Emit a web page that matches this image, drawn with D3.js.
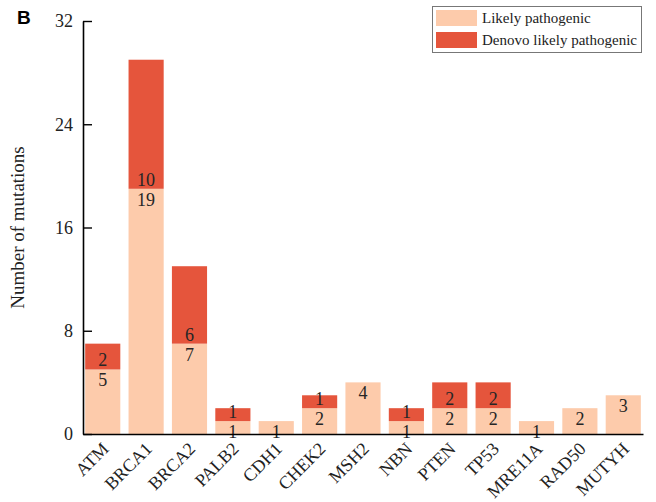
<!DOCTYPE html>
<html>
<head>
<meta charset="utf-8">
<script src="https://cdn.jsdelivr.net/npm/d3@7"></script>
<style>
  body { margin: 0; background: #fff; }
  svg { display: block; }
</style>
</head>
<body>
<svg id="chart" width="656" height="502"></svg>
<script>
// Gene panel and mutation counts per class
const genes = ["ATM", "BRCA1", "BRCA2", "PALB2", "CDH1", "CHEK2", "MSH2", "NBN", "PTEN", "TP53", "MRE11A", "RAD50", "MUTYH"];
const likelyPathogenic = [5, 19, 7, 1, 1, 2, 4, 1, 2, 2, 1, 2, 3];
const denovoLikelyPathogenic = [2, 10, 6, 1, 0, 1, 0, 1, 2, 2, 0, 0, 0];
const yTicks = [0, 8, 16, 24, 32];
const seriesNames = ["Likely pathogenic", "Denovo likely pathogenic"];
const seriesColors = ["#fdcbab", "#e5553c"];

const svg = d3.select("#chart");
const serif = "'Liberation Serif', 'Times New Roman', serif";

const plotLeft = 83, plotRight = 643, plotTop = 21, plotBottom = 434;

const x = d3.scaleBand().domain(genes).range([plotLeft, plotRight])
  .paddingInner(0.19).paddingOuter(0.05);
const y = d3.scaleLinear().domain([0, 32]).range([plotBottom, plotTop]);

const rows = genes.map((g, i) => ({ gene: g, lp: likelyPathogenic[i], dn: denovoLikelyPathogenic[i] }));

// Lower segment: likely pathogenic
svg.append("g").selectAll("rect").data(rows).join("rect")
  .attr("x", d => x(d.gene)).attr("width", x.bandwidth())
  .attr("y", d => y(d.lp)).attr("height", d => y(0) - y(d.lp))
  .attr("fill", seriesColors[0]);

// Upper segment: de novo likely pathogenic
svg.append("g").selectAll("rect").data(rows.filter(d => d.dn > 0)).join("rect")
  .attr("x", d => x(d.gene)).attr("width", x.bandwidth())
  .attr("y", d => y(d.lp + d.dn)).attr("height", d => y(d.lp) - y(d.lp + d.dn))
  .attr("fill", seriesColors[1]);

// Value labels: de novo count sits just above the split, likely count just below it
const labels = svg.append("g").attr("font-family", serif).attr("font-size", 18)
  .attr("fill", "#262626").attr("text-anchor", "middle");
labels.selectAll("text.lp").data(rows).join("text").attr("class", "lp")
  .attr("x", d => x(d.gene) + x.bandwidth() / 2)
  .attr("y", d => y(d.lp) + 17)
  .text(d => d.lp);
labels.selectAll("text.dn").data(rows.filter(d => d.dn > 0)).join("text").attr("class", "dn")
  .attr("x", d => x(d.gene) + x.bandwidth() / 2)
  .attr("y", d => y(d.lp) - 3)
  .text(d => d.dn);

// Y axis with inward ticks
const yAxis = d3.axisLeft(y).tickValues(yTicks).tickSizeInner(-9).tickSizeOuter(0).tickPadding(10);
const gy = svg.append("g").attr("transform", `translate(${plotLeft},0)`).call(yAxis);
gy.select(".domain").attr("stroke", "#000").attr("stroke-width", 1.6);
gy.selectAll(".tick line").attr("stroke", "#000").attr("stroke-width", 1.4);
gy.selectAll(".tick text").attr("font-family", serif).attr("font-size", 18).attr("fill", "#222");

// X axis with rotated gene names
const xAxis = d3.axisBottom(x).tickSize(0).tickSizeOuter(0);
const gx = svg.append("g").attr("transform", `translate(0,${plotBottom})`).call(xAxis);
gx.select(".domain").attr("stroke", "#000").attr("stroke-width", 1.6);
gx.selectAll(".tick text")
  .attr("font-family", serif).attr("font-size", 18).attr("fill", "#222")
  .attr("text-anchor", "end")
  .attr("dy", null)
  .attr("y", 0)
  .attr("transform", "translate(7,16) rotate(-45)");

// Y axis title
svg.append("text")
  .attr("transform", `translate(24,${(plotTop + plotBottom) / 2}) rotate(-90)`)
  .attr("text-anchor", "middle")
  .attr("font-family", serif).attr("font-size", 19).attr("fill", "#222")
  .text("Number of mutations");

// Panel letter
svg.append("text").attr("x", 17).attr("y", 24)
  .attr("font-family", "'Liberation Sans', Arial, sans-serif").attr("font-weight", "bold")
  .attr("font-size", 19).attr("fill", "#000").text("B");

// Legend
const lg = svg.append("g");
lg.append("rect").attr("x", 432.5).attr("y", 6.5).attr("width", 209).attr("height", 46)
  .attr("fill", "#fff").attr("stroke", "#777").attr("stroke-width", 1);
seriesNames.forEach((name, i) => {
  lg.append("rect").attr("x", 436).attr("y", 10 + i * 22).attr("width", 41).attr("height", 16)
    .attr("fill", seriesColors[i]);
  lg.append("text").attr("x", 482).attr("y", 23 + i * 22)
    .attr("font-family", serif).attr("font-size", 15).attr("fill", "#222").text(name);
});
</script>
</body>
</html>
